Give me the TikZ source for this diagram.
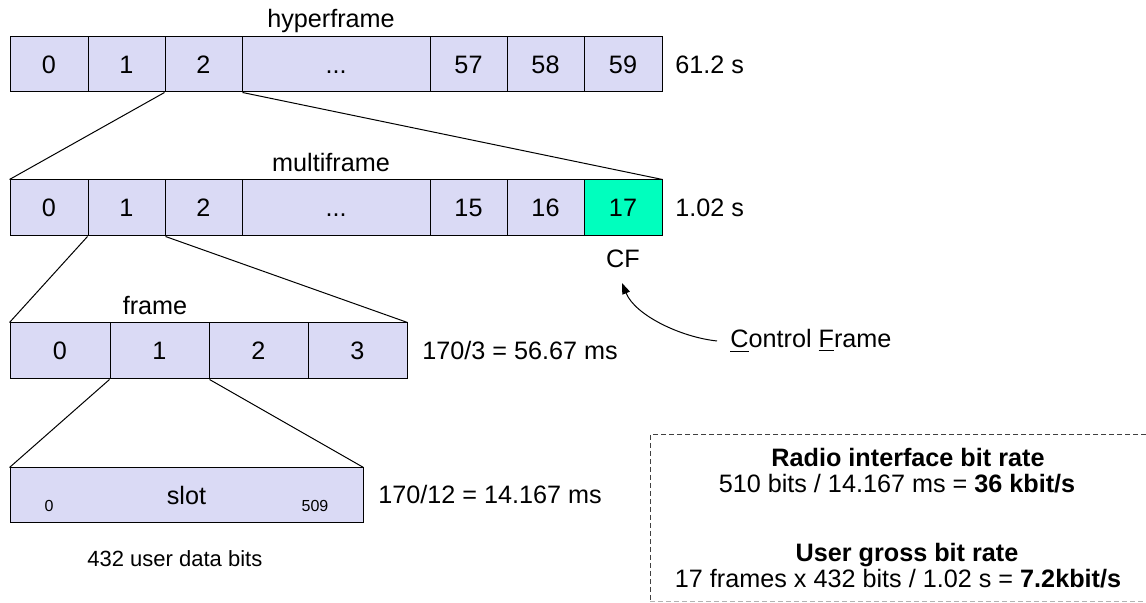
\documentclass[tikz,border=0pt]{standalone}
\usepackage{fontspec}
\setmainfont{Liberation Sans}
\usetikzlibrary{arrows.meta}
\definecolor{cellfill}{RGB}{218,218,245}
\definecolor{cfgreen}{RGB}{0,255,190}
\begin{document}
\begin{tikzpicture}[x=0.5pt,y=-0.5pt,
  every node/.style={font=\fontsize{12.6}{15}\selectfont},
  cellbox/.style={draw=black, line width=0.5pt, fill=cellfill, inner sep=0pt, minimum height=27.5pt, text height=9pt, text depth=0pt},
  lbl/.style={inner sep=0pt},
  link/.style={draw=black, line width=0.5pt},
  tiny/.style={inner sep=0pt, font=\fontsize{8}{10}\selectfont},
  dashline/.style={line width=0.5pt, dash pattern=on 2.5pt off 1.5pt},
]
\useasboundingbox (0,0) rectangle (1146,603);
% hyperframe
\node[cellbox, minimum width=39pt]   (h0)  at (49,64.5)    {0};
\node[cellbox, minimum width=38.5pt] (h1)  at (126.5,64.5) {1};
\node[cellbox, minimum width=38.5pt] (h2)  at (203.5,64.5) {2};
\node[cellbox, minimum width=94pt]   (hd)  at (336,64.5)   {...};
\node[cellbox, minimum width=38.5pt] (h57) at (468.5,64.5) {57};
\node[cellbox, minimum width=38.5pt] (h58) at (545.5,64.5) {58};
\node[cellbox, minimum width=39pt]   (h59) at (623,64.5)   {59};
\node[lbl, anchor=base] (hlab) at (331,28) {hyperframe};
\node[lbl, anchor=west] (htime) at (675,64.5) {61.2 s};
% multiframe
\node[cellbox, minimum width=39pt, minimum height=28pt]   (m0)  at (49,208)    {0};
\node[cellbox, minimum width=38.5pt, minimum height=28pt] (m1)  at (126.5,208) {1};
\node[cellbox, minimum width=38.5pt, minimum height=28pt] (m2)  at (203.5,208) {2};
\node[cellbox, minimum width=94pt, minimum height=28pt]   (md)  at (336,208)   {...};
\node[cellbox, minimum width=38.5pt, minimum height=28pt] (m15) at (468.5,208) {15};
\node[cellbox, minimum width=38.5pt, minimum height=28pt] (m16) at (545.5,208) {16};
\node[cellbox, minimum width=39pt, minimum height=28pt, fill=cfgreen] (m17) at (623,208) {17};
\node[lbl, anchor=base] (mlab) at (331,171.5) {multiframe};
\node[lbl, anchor=west] (mtime) at (675,208) {1.02 s};
\node[lbl] (cf) at (623,259) {CF};
% frame
\node[cellbox, minimum width=50pt, minimum height=28pt]   (f0) at (60,351)    {0};
\node[cellbox, minimum width=49.5pt, minimum height=28pt] (f1) at (159.5,351) {1};
\node[cellbox, minimum width=49.5pt, minimum height=28pt] (f2) at (258.5,351) {2};
\node[cellbox, minimum width=49.5pt, minimum height=28pt] (f3) at (357.5,351) {3};
\node[lbl, anchor=base] (flab) at (155,315) {frame};
\node[lbl, anchor=west] (ftime) at (422,350) {170/3 = 56.67 ms};
% slot
\node[cellbox, minimum width=176.5pt] (slot) at (186.5,495.5) {slot};
\node[tiny, anchor=base] (s0) at (49,512) {0};
\node[tiny, anchor=base] (s509) at (315,512) {509};
\node[lbl, anchor=west] (stime) at (378,494) {170/12 = 14.167 ms};
\node[lbl, anchor=base west, font=\fontsize{11}{13}\selectfont] (udata) at (87,567) {432 user data bits};
% connectors
\draw[link] (h2.south west) -- (m0.north west);
\draw[link] (h2.south east) -- (m17.north east);
\draw[link] (m1.south west) -- (f0.north west);
\draw[link] (m1.south east) -- (f3.north east);
\draw[link] (f1.south west) -- (slot.north west);
\draw[link] (f1.south east) -- (slot.north east);
% control frame
\node[lbl, anchor=base west] (ctrl) at (730,348) {\underline{C}ontrol \underline{F}rame};
\coordinate (cftip) at (622,283);
\draw[link, -{Triangle[length=5.5pt,width=4pt]}] ([xshift=-6.5pt]ctrl.west) .. controls (680,337) and (635,315) .. (cftip);
% bit rate box
\draw[dashline, draw=black!75] (1146,435) -- (650,435) -- (650,603);
\draw[dashline, draw=black!30] (650,602) -- (1146,602);
\node[lbl, anchor=base, font=\fontsize{12.6}{15}\selectfont\bfseries] (r1) at (908,467) {Radio interface bit rate};
\node[lbl, anchor=base] (r2) at (897,493) {510 bits / 14.167 ms = \textbf{36 kbit/s}};
\node[lbl, anchor=base, font=\fontsize{12.6}{15}\selectfont\bfseries] (u1) at (907,562) {User gross bit rate};
\node[lbl, anchor=base] (u2) at (898,588) {17 frames x 432 bits / 1.02 s = \textbf{7.2kbit/s}};
\end{tikzpicture}
\end{document}
